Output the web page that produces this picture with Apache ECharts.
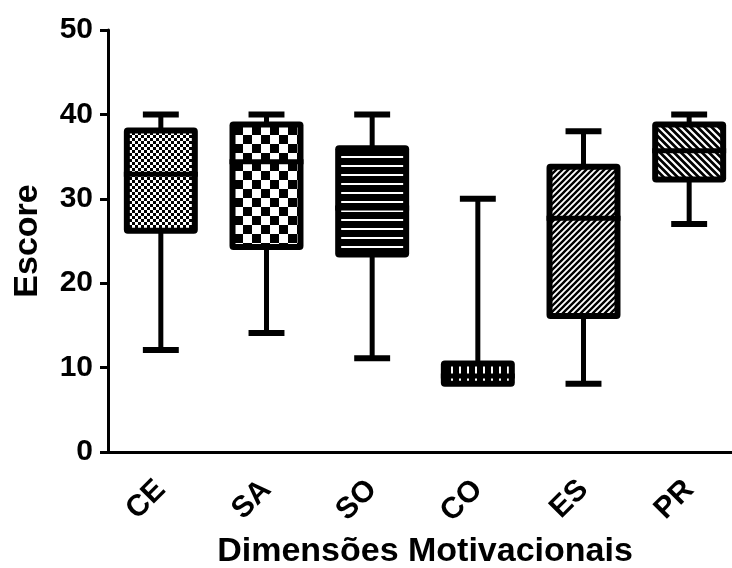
<!DOCTYPE html>
<html>
<head>
<meta charset="utf-8">
<script src="https://cdn.jsdelivr.net/npm/echarts@6/dist/echarts.min.js"></script>
<style>html,body{margin:0;padding:0;background:#fff}#c{width:732px;height:568px}</style>
</head>
<body>
<div id="c"></div>
<script>
const categories = ['CE', 'SA', 'SO', 'CO', 'ES', 'PR'];
const mins    = [12.1, 14.1, 11.1, 8.0, 8.1, 27.0];
const q1s     = [26.2, 24.3, 23.4, 8.1, 16.1, 32.3];
const medians = [32.9, 34.4, 28.9, 9.0, 27.7, 35.7];
const q3s     = [38.1, 38.8, 36.0, 10.5, 33.8, 38.8];
const maxs    = [40.0, 40.0, 40.0, 30.0, 38.0, 40.0];
const yTicks  = [0, 50, 10];

function tile(w, h, draw) {
  const cv = document.createElement('canvas');
  cv.width = w; cv.height = h;
  const ctx = cv.getContext('2d');
  draw(ctx, w, h);
  return { image: cv, repeat: 'repeat' };
}
const patterns = [
  tile(6, 6, (c) => { c.fillStyle = '#fff'; c.fillRect(0,0,6,6); c.fillStyle = '#000'; c.fillRect(0,0,3,3); c.fillRect(3,3,3,3); }),
  tile(18, 18, (c) => { c.fillStyle = '#fff'; c.fillRect(0,0,18,18); c.fillStyle = '#000'; c.fillRect(0,0,9,9); c.fillRect(9,9,9,9); }),
  tile(4, 9, (c) => { c.fillStyle = '#000'; c.fillRect(0,0,4,9); c.fillStyle = '#fff'; c.fillRect(0,3,4,2); }),
  tile(8, 4, (c) => { c.fillStyle = '#000'; c.fillRect(0,0,8,4); c.fillStyle = '#fff'; c.fillRect(3,0,2,4); }),
  tile(6, 6, (c) => { c.fillStyle = '#fff'; c.fillRect(0,0,6,6); c.strokeStyle = '#000'; c.lineWidth = 2.4;
    c.beginPath(); c.moveTo(-1,7); c.lineTo(7,-1); c.moveTo(-4,4); c.lineTo(4,-4); c.moveTo(2,10); c.lineTo(10,2); c.stroke(); }),
  tile(7, 7, (c) => { c.fillStyle = '#000'; c.fillRect(0,0,7,7); c.strokeStyle = '#fff'; c.lineWidth = 2.2;
    c.beginPath(); c.moveTo(-1,-1); c.lineTo(8,8); c.moveTo(-4,3); c.lineTo(4,11); c.moveTo(3,-4); c.lineTo(11,4); c.stroke(); })
];

const data = categories.map((c, i) => [i, mins[i], q1s[i], medians[i], q3s[i], maxs[i]]);
const chart = echarts.init(document.getElementById('c'), null, { renderer: 'canvas' });
const FONT = 'Liberation Sans, Arial, sans-serif';

chart.setOption({
  animation: false,
  grid: { left: 108, right: -10, top: 30, bottom: 116, outerBoundsMode: 'none', containLabel: false },
  xAxis: {
    type: 'category', data: categories,
    name: 'Dimensões Motivacionais', nameLocation: 'middle', nameGap: 80,
    nameTextStyle: { fontFamily: FONT, fontWeight: 'bold', fontSize: 34, color: '#000' },
    axisLine: { lineStyle: { color: '#000', width: 3 } },
    axisTick: { alignWithLabel: true, length: 9, lineStyle: { color: '#000', width: 3 } },
    axisLabel: { rotate: 45, margin: 33, fontFamily: FONT, fontWeight: 'bold', fontSize: 30, color: '#000' },
    splitLine: { show: false }
  },
  yAxis: {
    type: 'value', min: yTicks[0], max: yTicks[1], interval: yTicks[2],
    name: 'Escore', nameLocation: 'middle', nameGap: 63,
    nameTextStyle: { fontFamily: FONT, fontWeight: 'bold', fontSize: 34, color: '#000' },
    axisLine: { show: true, lineStyle: { color: '#000', width: 3 } },
    axisTick: { show: true, length: 8, lineStyle: { color: '#000', width: 3 } },
    axisLabel: { margin: 15, fontFamily: FONT, fontWeight: 'bold', fontSize: 30, color: '#000' },
    splitLine: { show: false }
  },
  series: [{
    type: 'custom',
    data: data,
    encode: { x: 0, y: [1, 2, 3, 4, 5] },
    renderItem: function (params, api) {
      const i = api.value(0);
      const band = api.size([1, 0])[0];
      const bw = band * 0.70, cw = band * 0.34, b = 6;
      const x = api.coord([i, 0])[0];
      const yMin = api.coord([i, api.value(1)])[1];
      const yQ1 = api.coord([i, api.value(2)])[1];
      const yMed = api.coord([i, api.value(3)])[1];
      const yQ3 = api.coord([i, api.value(4)])[1];
      const yMax = api.coord([i, api.value(5)])[1];
      const black = { fill: '#000' };
      const ch = [];
      ch.push({ type: 'rect', shape: { x: x - 2.5, y: yMax, width: 5, height: yQ3 - yMax }, style: black });
      ch.push({ type: 'rect', shape: { x: x - 2.5, y: yQ1, width: 5, height: yMin - yQ1 }, style: black });
      if (yMax < yQ3 - 3) ch.push({ type: 'rect', shape: { x: x - cw / 2, y: yMax - 3, width: cw, height: 6 }, style: black });
      if (yMin > yQ1 + 3) ch.push({ type: 'rect', shape: { x: x - cw / 2, y: yMin - 3, width: cw, height: 6 }, style: black });
      ch.push({ type: 'rect', shape: { x: x - bw / 2, y: yQ3 - b / 2, width: bw, height: yQ1 - yQ3 + b, r: 4 }, style: black });
      ch.push({ type: 'rect', shape: { x: x - bw / 2 + b, y: yQ3 + b / 2, width: bw - 2 * b, height: Math.max(0, yQ1 - yQ3 - b) }, style: { fill: patterns[i] } });
      ch.push({ type: 'rect', shape: { x: x - bw / 2, y: yMed - 2.5, width: bw, height: 5 }, style: black });
      return { type: 'group', children: ch };
    }
  }]
});
</script>
</body>
</html>
